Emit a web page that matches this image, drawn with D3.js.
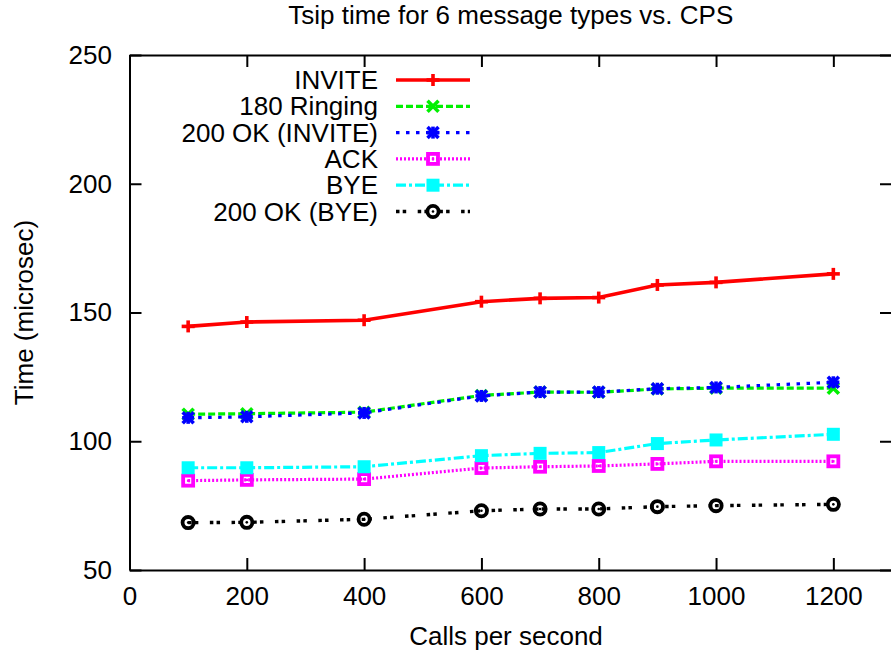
<!DOCTYPE html>
<html>
<head>
<meta charset="utf-8">
<script src="https://cdn.jsdelivr.net/npm/d3@7"></script>
<style>
  html, body { margin: 0; padding: 0; background: #fff; }
  svg { display: block; }
  text { font-family: "Liberation Sans", Arial, Helvetica, sans-serif; fill: #000; }
</style>
</head>
<body>
<svg id="chart" width="891" height="657"></svg>
<script>
// Calls per second (x) and Tsip time in microseconds for each message type
const cps = [100, 200, 400, 600, 700, 800, 900, 1000, 1200];
const invite   = [144.6, 146.3, 147.0, 154.2, 155.5, 155.8, 160.7, 161.7, 165.0];
const ringing  = [110.5, 110.7, 111.3, 117.8, 119.1, 119.0, 120.3, 120.6, 120.6];
const okInvite = [109.1, 109.5, 111.0, 117.6, 119.1, 119.1, 120.4, 120.9, 122.9];
const ack      = [84.7, 85.0, 85.3, 89.6, 90.1, 90.4, 91.2, 92.2, 92.2];
const bye      = [89.7, 89.7, 90.1, 94.4, 95.3, 95.6, 99.1, 100.5, 102.7];
const okBye    = [68.4, 68.5, 69.7, 73.0, 73.7, 73.7, 74.6, 75.0, 75.5];

const seriesNames = ["INVITE", "180 Ringing", "200 OK (INVITE)", "ACK", "BYE", "200 OK (BYE)"];
const seriesValues = [invite, ringing, okInvite, ack, bye, okBye];

const xTicks = [0, 200, 400, 600, 800, 1000, 1200];
const yTicks = [50, 100, 150, 200, 250];

const titleText = "Tsip time for 6 message types vs. CPS";
const xLabel = "Calls per second";
const yLabel = "Time (microsec)";

// Line/point styling per series
const styles = [
  { color: "#ff0000", width: 3.6, dash: null,               marker: "plus" },
  { color: "#00f000", width: 3.2, dash: "7,3",              marker: "cross" },
  { color: "#0000ff", width: 3.2, dash: "3.5,6.5",          marker: "star" },
  { color: "#ff00ff", width: 3.2, dash: "2,2",              marker: "openSquare" },
  { color: "#00ffff", width: 3.2, dash: "10,3,3,3",         marker: "filledSquare" },
  { color: "#000000", width: 3.4, dash: "3.5,3.2,3.5,11.5", marker: "openCircle" }
];

const svg = d3.select("#chart");
const FONT = 26;

const mLeft = 129.5, mRight = 892, mTop = 55, mBottom = 570;
const x = d3.scaleLinear().domain([0, 1300]).range([mLeft, mRight]);
const y = d3.scaleLinear().domain([50, 250]).range([mBottom, mTop]);

// Axes with inward ticks on all four sides
const axisStyle = g => {
  g.selectAll("path.domain").attr("stroke", "#000").attr("stroke-width", 2);
  g.selectAll(".tick line").attr("stroke", "#000").attr("stroke-width", 2);
  g.selectAll("text").attr("font-size", FONT).attr("fill", "#000");
  g.attr("font-family", null).attr("font-size", null);
};

svg.append("g")
  .attr("transform", `translate(0,${mBottom})`)
  .call(d3.axisBottom(x).tickValues(xTicks).tickSizeInner(-12).tickSizeOuter(0).tickPadding(17).tickFormat(d3.format("d")))
  .call(axisStyle)
  .call(g => g.selectAll("text").attr("dy", "0.71em"));

svg.append("g")
  .attr("transform", `translate(0,${mTop})`)
  .call(d3.axisTop(x).tickValues(xTicks).tickSizeInner(-12).tickSizeOuter(0).tickFormat(""))
  .call(axisStyle);

svg.append("g")
  .attr("transform", `translate(${mLeft},0)`)
  .call(d3.axisLeft(y).tickValues(yTicks).tickSizeInner(-12).tickSizeOuter(0).tickPadding(17.5).tickFormat(d3.format("d")))
  .call(axisStyle);

svg.append("g")
  .attr("transform", `translate(${mRight},0)`)
  .call(d3.axisRight(y).tickValues(yTicks).tickSizeInner(-12).tickSizeOuter(0).tickFormat(""))
  .call(axisStyle);

// Titles
svg.append("text")
  .attr("x", (mLeft + mRight) / 2).attr("y", 24)
  .attr("text-anchor", "middle").attr("font-size", FONT)
  .text(titleText);

svg.append("text")
  .attr("x", 506).attr("y", 645)
  .attr("text-anchor", "middle").attr("font-size", FONT)
  .text(xLabel);

svg.append("text")
  .attr("transform", `translate(33,${(mTop + mBottom) / 2}) rotate(-90)`)
  .attr("text-anchor", "middle").attr("font-size", FONT)
  .text(yLabel);

// Point markers
function drawMarker(g, type, cx, cy, color) {
  const line = (x1, y1, x2, y2, w) => g.append("line")
    .attr("x1", cx + x1).attr("y1", cy + y1).attr("x2", cx + x2).attr("y2", cy + y2)
    .attr("stroke", color).attr("stroke-width", w || 3.6);
  if (type === "plus") {
    line(-6.5, 0, 6.5, 0); line(0, -6, 0, 6);
  } else if (type === "cross") {
    line(-5.5, -5.5, 5.5, 5.5); line(-5.5, 5.5, 5.5, -5.5);
  } else if (type === "star") {
    line(-5.5, -5.5, 5.5, 5.5); line(-5.5, 5.5, 5.5, -5.5);
    line(-6, 0, 6, 0); line(0, -6, 0, 6);
  } else if (type === "openSquare") {
    g.append("rect").attr("x", cx - 5).attr("y", cy - 5).attr("width", 10).attr("height", 10)
      .attr("fill", "none").attr("stroke", color).attr("stroke-width", 3.8);
    g.append("rect").attr("x", cx - 1.2).attr("y", cy - 1.2).attr("width", 2.4).attr("height", 2.4).attr("fill", color);
  } else if (type === "filledSquare") {
    g.append("rect").attr("x", cx - 6.5).attr("y", cy - 6.5).attr("width", 13).attr("height", 13)
      .attr("fill", color);
  } else if (type === "openCircle") {
    g.append("circle").attr("cx", cx).attr("cy", cy).attr("r", 5.6)
      .attr("fill", "none").attr("stroke", color).attr("stroke-width", 3.8);
    g.append("circle").attr("cx", cx).attr("cy", cy).attr("r", 1.3).attr("fill", color);
  }
}

const lineGen = d3.line().x(d => x(d[0])).y(d => y(d[1]));

const plot = svg.append("g");
seriesValues.forEach((vals, i) => {
  const st = styles[i];
  const pts = cps.map((c, j) => [c, vals[j]]);
  const g = plot.append("g");
  g.append("path")
    .attr("d", lineGen(pts))
    .attr("fill", "none")
    .attr("stroke", st.color)
    .attr("stroke-width", st.width)
    .attr("stroke-dasharray", st.dash);
  pts.forEach(p => drawMarker(g, st.marker, x(p[0]), y(p[1]), st.color));
});

// Legend, right-aligned text with line samples
const legend = svg.append("g");
const legendTextX = 378, sampleX1 = 396, sampleX2 = 470, rowY0 = 80, rowStep = 26.3;
seriesNames.forEach((name, i) => {
  const st = styles[i];
  const cy = rowY0 + i * rowStep;
  legend.append("text")
    .attr("x", legendTextX).attr("y", cy).attr("dy", "0.35em")
    .attr("text-anchor", "end").attr("font-size", FONT)
    .text(name);
  legend.append("line")
    .attr("x1", sampleX1).attr("x2", sampleX2).attr("y1", cy).attr("y2", cy)
    .attr("stroke", st.color).attr("stroke-width", st.width)
    .attr("stroke-dasharray", st.dash);
  drawMarker(legend, st.marker, (sampleX1 + sampleX2) / 2, cy, st.color);
});
</script>
</body>
</html>
